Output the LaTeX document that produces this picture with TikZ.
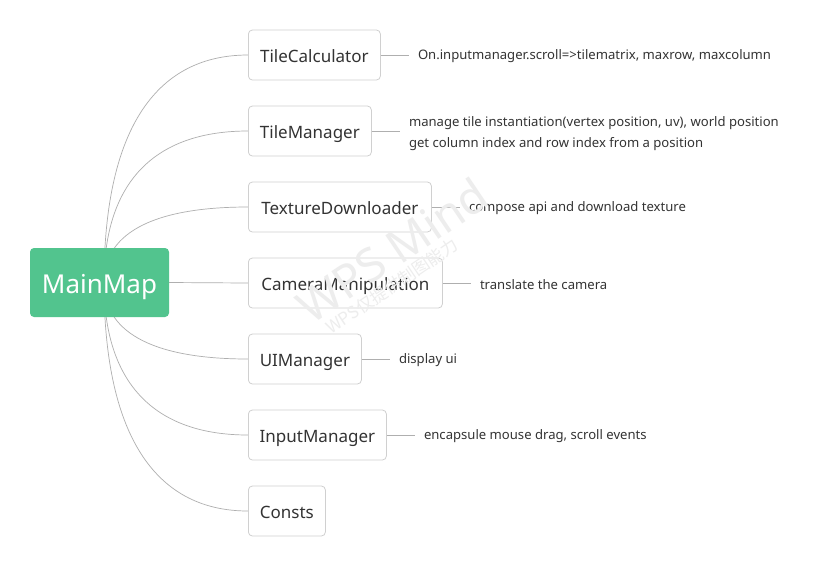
\documentclass[tikz,border=0pt]{standalone}
\usepackage{fontspec}
\setmainfont{Noto Sans}
\newfontfamily\cjk{Noto Sans CJK SC}
\usetikzlibrary{calc,backgrounds}
\definecolor{mapgreen}{RGB}{82,196,142}
\definecolor{nodeborder}{RGB}{208,208,208}
\definecolor{linkgray}{RGB}{175,175,175}
\definecolor{textdark}{RGB}{51,51,51}
\definecolor{wmark}{RGB}{237,237,237}
\begin{document}
\begin{tikzpicture}[x=1pt,y=-1pt,
  mainbox/.style={fill=mapgreen, rounded corners=4pt, minimum width=139pt, minimum height=69pt,
    text=white, font=\fontsize{26}{30}\selectfont, inner sep=0pt, text height=21.6pt, text depth=0pt},
  childbox/.style={draw=nodeborder, line width=0.8pt, rounded corners=4pt, fill=white,
    minimum height=50pt, inner sep=0pt, anchor=west, font=\fontsize{17}{20}\selectfont, text=textdark,
    text height=15.2pt, text depth=0pt},
  leaf/.style={anchor=west, inner xsep=9pt, inner ysep=0pt, align=left,
    font=\fontsize{13.1}{21}\selectfont, text=textdark},
  link/.style={draw=linkgray, line width=0.7pt},
  wm/.style={text=wmark, rotate=34}]
\useasboundingbox (0,0) rectangle (821,566);

\node[mainbox] (main) at (99.5,282.5) {MainMap};

\node[childbox, minimum width=132pt] (tc) at (248,55) {TileCalculator};
\node[childbox, minimum width=123pt] (tm) at (248,131) {TileManager};
\node[childbox, minimum width=183pt] (td) at (248,207) {TextureDownloader};
\node[childbox, minimum width=194pt] (cm) at (248,283) {CameraManipulation};
\node[childbox, minimum width=113pt] (ui) at (248,359) {UIManager};
\node[childbox, minimum width=138pt] (im) at (248,435) {InputManager};
\node[childbox, minimum width=77pt] (co) at (248,511) {Consts};

\node[leaf] (ltc) at ($(tc.east)+(28,1.5)$) {On.inputmanager.scroll=>tilematrix, maxrow, maxcolumn};
\node[leaf] (ltm) at ($(tm.east)+(28,2.5)$) {manage tile instantiation(vertex position, uv), world position\\get column index and row index from a position};
\node[leaf] (ltd) at ($(td.east)+(28,1.5)$) {compose api and download texture};
\node[leaf] (lcm) at ($(cm.east)+(28,1.5)$) {translate the camera};
\node[leaf] (lui) at ($(ui.east)+(28,1.5)$) {display ui};
\node[leaf] (lim) at ($(im.east)+(28,1.5)$) {encapsule mouse drag, scroll events};

\begin{scope}[on background layer]
\fill[white] (0,0) rectangle (821,566);
\draw[link] ($(main.center)+(4.5,0)$) .. controls (104,123) and (160,55) .. (tc.west);
\draw[link] ($(main.center)+(4.5,0)$) .. controls (104,176.5) and (160,131) .. (tm.west);
\draw[link] ($(main.center)+(4.5,0)$) .. controls (104,229.6) and (160,207) .. (td.west);
\draw[link] (main.east) -- (cm.west);
\draw[link] ($(main.center)+(4.5,0)$) .. controls (104,336) and (160,359) .. (ui.west);
\draw[link] ($(main.center)+(4.5,0)$) .. controls (104,389) and (160,435) .. (im.west);
\draw[link] ($(main.center)+(4.5,0)$) .. controls (104,442.5) and (160,511) .. (co.west);
\end{scope}

\draw[link] (tc.east) -- (tc.east -| ltc.west);
\draw[link] (tm.east) -- (tm.east -| ltm.west);
\draw[link] (td.east) -- (td.east -| ltd.west);
\draw[link] (cm.east) -- (cm.east -| lcm.west);
\draw[link] (ui.east) -- (ui.east -| lui.west);
\draw[link] (im.east) -- (im.east -| lim.west);

% watermark
\node[wm, font=\fontsize{46}{50}\selectfont] (wm1) at (392,250) {WPS Mind};
\node[wm, font=\cjk\fontsize{17}{20}\selectfont] (wm2) at (392,286) {WPS仅提供制图能力};
\end{tikzpicture}
\end{document}
